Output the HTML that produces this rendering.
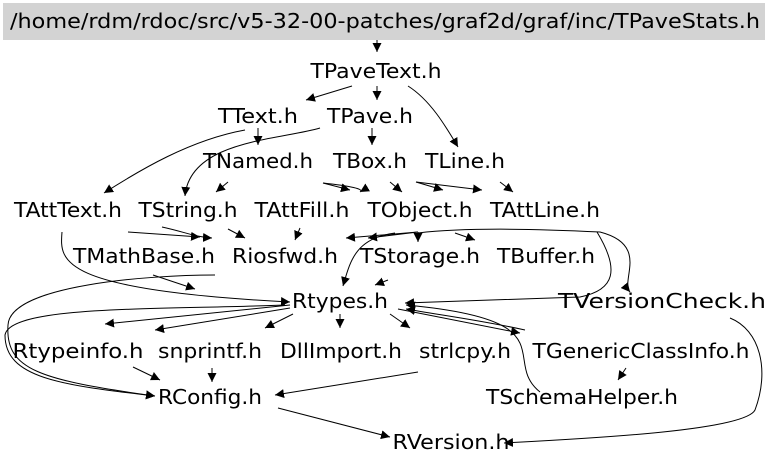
<!DOCTYPE html>
<html><head><style>
html,body{margin:0;padding:0;background:#fff;}
svg text{font-family:"DejaVu Sans","Liberation Sans",sans-serif;font-size:20px;fill:#000;text-anchor:middle;}
</style></head><body>
<svg width="768" height="469" viewBox="0 0 768 469" xmlns="http://www.w3.org/2000/svg">
<defs><marker id="a" viewBox="0 0 10 10" refX="10" refY="5" markerWidth="9" markerHeight="9" markerUnits="userSpaceOnUse" orient="auto"><path d="M0,0L10,5L0,10z" fill="#000"/></marker></defs>
<rect x="3" y="3" width="762" height="37" fill="#d3d3d3"/>
<g fill="none" stroke="#000" stroke-width="1" marker-end="url(#a)">
<path d="M377,40L377,52"/>
<path d="M352,86L306,100"/>
<path d="M377,86L377,100"/>
<path d="M408,86C430,100 445,125 458,147"/>
<path d="M258,128L258,145"/>
<path d="M245,130C190,140 140,170 104,193"/>
<path d="M320,128C280,140 190,140 185,196"/>
<path d="M372,128L372,145"/>
<path d="M228,182L216,192"/>
<path d="M323,183L350,190"/>
<path d="M323,183C350,186 365,189 360,192"/>
<path d="M390,182L402,192"/>
<path d="M416,182L443,190"/>
<path d="M416,182L482,190"/>
<path d="M500,182L513,192"/>
<path d="M128,232L200,237"/>
<path d="M162,227C185,232 195,237 212,238"/>
<path d="M228,229L245,238"/>
<path d="M300,228L295,240"/>
<path d="M418,232L346,238"/>
<path d="M418,232L418,242"/>
<path d="M418,232L368,238"/>
<path d="M395,233C355,238 350,262 343,286"/>
<path d="M455,233L475,240"/>
<path d="M418,233C460,228 520,228 600,232C650,245 620,280 630,292"/>
<path d="M597,232C620,270 615,290 580,297L405,303"/>
<path d="M62,232C60,260 55,290 290,302"/>
<path d="M388,280L375,285"/>
<path d="M153,275L195,289"/>
<path d="M215,275C150,275 10,285 8,325C5,370 40,380 155,396"/>
<path d="M290,305L105,324"/>
<path d="M285,305C160,310 10,305 5,335C5,378 60,385 155,396"/>
<path d="M290,308L155,330"/>
<path d="M293,314L265,328"/>
<path d="M340,314L340,328"/>
<path d="M390,314L410,328"/>
<path d="M398,309L520,333"/>
<path d="M525,330C480,320 440,315 406,309"/>
<path d="M540,392C500,360 570,320 406,305"/>
<path d="M133,367L160,380"/>
<path d="M212,368L212,382"/>
<path d="M418,372L275,395"/>
<path d="M278,408L390,437"/>
<path d="M730,318C760,330 770,370 755,410C745,430 600,438 504,443"/>
<path d="M626,368L618,380"/>
</g>
<g>
<text x="385" y="28" textLength="750" lengthAdjust="spacingAndGlyphs">/home/rdm/rdoc/src/v5-32-00-patches/graf2d/graf/inc/TPaveStats.h</text>
<text x="376" y="78" textLength="131" lengthAdjust="spacingAndGlyphs">TPaveText.h</text>
<text x="258" y="123" textLength="80" lengthAdjust="spacingAndGlyphs">TText.h</text>
<text x="370" y="123" textLength="86" lengthAdjust="spacingAndGlyphs">TPave.h</text>
<text x="258" y="168" textLength="110" lengthAdjust="spacingAndGlyphs">TNamed.h</text>
<text x="370" y="168" textLength="74" lengthAdjust="spacingAndGlyphs">TBox.h</text>
<text x="465" y="168" textLength="80" lengthAdjust="spacingAndGlyphs">TLine.h</text>
<text x="68" y="217" textLength="108" lengthAdjust="spacingAndGlyphs">TAttText.h</text>
<text x="188" y="217" textLength="99" lengthAdjust="spacingAndGlyphs">TString.h</text>
<text x="302" y="217" textLength="95" lengthAdjust="spacingAndGlyphs">TAttFill.h</text>
<text x="420" y="217" textLength="105" lengthAdjust="spacingAndGlyphs">TObject.h</text>
<text x="545" y="217" textLength="110" lengthAdjust="spacingAndGlyphs">TAttLine.h</text>
<text x="144" y="263" textLength="142" lengthAdjust="spacingAndGlyphs">TMathBase.h</text>
<text x="285" y="263" textLength="106" lengthAdjust="spacingAndGlyphs">Riosfwd.h</text>
<text x="420" y="263" textLength="120" lengthAdjust="spacingAndGlyphs">TStorage.h</text>
<text x="546" y="263" textLength="98" lengthAdjust="spacingAndGlyphs">TBuffer.h</text>
<text x="340" y="308" textLength="96" lengthAdjust="spacingAndGlyphs">Rtypes.h</text>
<text x="662" y="308" textLength="208" lengthAdjust="spacingAndGlyphs">TVersionCheck.h</text>
<text x="78" y="358" textLength="131" lengthAdjust="spacingAndGlyphs">Rtypeinfo.h</text>
<text x="210" y="358" textLength="104" lengthAdjust="spacingAndGlyphs">snprintf.h</text>
<text x="341" y="358" textLength="122" lengthAdjust="spacingAndGlyphs">DllImport.h</text>
<text x="465" y="358" textLength="92" lengthAdjust="spacingAndGlyphs">strlcpy.h</text>
<text x="641" y="358" textLength="217" lengthAdjust="spacingAndGlyphs">TGenericClassInfo.h</text>
<text x="210" y="404" textLength="104" lengthAdjust="spacingAndGlyphs">RConfig.h</text>
<text x="582" y="404" textLength="192" lengthAdjust="spacingAndGlyphs">TSchemaHelper.h</text>
<text x="451" y="449" textLength="117" lengthAdjust="spacingAndGlyphs">RVersion.h</text>
</g>
</svg>
</body></html>
